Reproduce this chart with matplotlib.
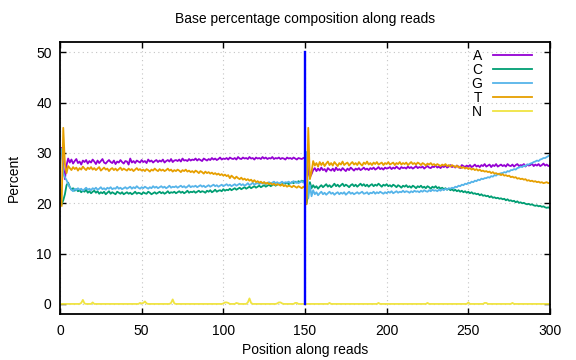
import numpy as np
import matplotlib
matplotlib.use("Agg")
import matplotlib.pyplot as plt

# read positions 1..150 are read 1, 151..300 are read 2
positions = list(range(1, 301))

pct_A = [
    31.0, 27.5, 24.8, 27.6, 28.9, 28.1, 28.7, 27.9, 28.4, 28.8,
    28.0, 28.3, 27.7, 28.5, 28.2, 28.6, 27.9, 28.4, 28.1, 28.7,
    28.3, 27.8, 28.5, 28.0, 28.4, 28.8, 28.1, 27.9, 28.3, 28.6,
    28.2, 28.0, 28.5, 27.8, 28.3, 28.1, 28.6, 28.2, 27.9, 28.4,
    28.3, 27.7, 28.9, 28.1, 28.4, 28.0, 28.5, 28.3, 28.1, 28.6,
    28.2, 28.4, 28.0, 28.7, 28.3, 28.5, 28.1, 28.4, 28.6, 28.2,
    28.5, 28.3, 28.7, 28.1, 28.4, 28.6, 28.3, 28.8, 28.2, 28.5,
    28.6, 28.4, 28.7, 28.3, 28.9, 28.5, 28.6, 28.4, 28.8, 28.5,
    28.7, 28.6, 28.9, 28.5, 28.8, 28.6, 28.4, 28.9, 28.7, 28.5,
    28.8, 28.6, 29.0, 28.7, 28.9, 28.6, 28.8, 29.1, 28.7, 28.9,
    28.8, 29.0, 28.7, 29.1, 28.9, 28.8, 29.0, 28.7, 29.2, 28.9,
    28.8, 29.1, 28.9, 29.0, 28.8, 29.2, 28.9, 29.0, 28.7, 29.1,
    28.9, 29.0, 28.8, 29.2, 28.9, 29.1, 28.8, 29.0, 28.9, 29.2,
    28.8, 29.0, 28.9, 29.1, 28.8, 29.0, 28.9, 28.7, 29.1, 28.9,
    29.0, 28.8, 29.1, 28.9, 28.7, 29.0, 28.9, 28.8, 29.0, 29.1,
    29.5, 26.0, 25.2, 25.8, 26.6, 27.0, 26.4, 26.9, 26.5, 27.1,
    26.6, 26.8, 26.3, 27.0, 26.7, 26.5, 26.9, 26.4, 27.1, 26.6,
    26.8, 26.5, 27.0, 26.7, 26.4, 26.9, 26.6, 27.1, 26.8, 26.5,
    26.9, 26.7, 27.0, 26.6, 26.8, 27.1, 26.7, 26.9, 26.6, 27.0,
    26.8, 27.1, 26.7, 26.9, 27.2, 26.8, 27.0, 26.7, 27.1, 26.9,
    27.0, 27.2, 26.8, 27.1, 26.9, 27.3, 27.0, 26.8, 27.2, 27.0,
    27.1, 26.9, 27.3, 27.0, 27.2, 26.9, 27.1, 27.4, 27.0, 27.2,
    27.1, 27.3, 26.9, 27.2, 27.4, 27.1, 27.0, 27.3, 27.2, 27.5,
    27.1, 27.3, 27.0, 27.4, 27.2, 27.5, 27.1, 27.3, 27.6, 27.2,
    27.4, 27.1, 27.5, 27.3, 27.0, 27.6, 27.4, 27.2, 27.5, 27.3,
    27.6, 27.2, 27.4, 27.7, 27.3, 27.5, 27.2, 27.6, 27.4, 27.8,
    27.3, 27.5, 27.7, 27.2, 27.6, 27.4, 27.8, 27.3, 27.5, 27.7,
    27.4, 27.6, 27.3, 27.8, 27.5, 27.4, 27.7, 27.3, 27.6, 27.8,
    27.4, 27.6, 27.5, 27.8, 27.3, 27.7, 27.5, 27.6, 27.9, 27.4,
    27.7, 27.5, 27.8, 27.4, 27.6, 27.9, 27.5, 27.7, 27.4, 27.6,
]

pct_C = [
    19.8, 20.6, 21.8, 23.6, 24.1, 23.2, 22.7, 23.0, 22.5, 22.8,
    22.4, 22.6, 22.2, 22.5, 22.3, 22.7, 22.1, 22.4, 22.0, 22.3,
    22.5, 22.1, 22.4, 21.9, 22.2, 22.0, 22.3, 21.8, 22.1, 22.4,
    21.9, 22.2, 22.0, 21.8, 22.3, 22.1, 21.9, 22.2, 21.8, 22.0,
    22.2, 21.9, 22.1, 21.8, 22.0, 22.3, 21.9, 22.1, 22.0, 21.8,
    22.2, 22.0, 21.9, 22.3, 22.1, 21.8, 22.0, 22.2, 21.9, 22.1,
    22.3, 22.0, 22.2, 21.9, 22.1, 22.4, 22.0, 22.2, 22.1, 22.3,
    22.0, 22.2, 22.4, 22.1, 22.3, 22.0, 22.2, 22.5, 22.1, 22.3,
    22.2, 22.4, 22.1, 22.3, 22.5, 22.2, 22.4, 22.3, 22.1, 22.5,
    22.3, 22.6, 22.2, 22.4, 22.7, 22.3, 22.5, 22.6, 22.4, 22.8,
    22.5, 22.7, 22.6, 22.9, 22.6, 22.8, 23.0, 22.7, 22.9, 23.1,
    22.8, 23.0, 23.2, 22.9, 23.1, 23.3, 23.0, 23.2, 23.4, 23.1,
    23.3, 23.5, 23.2, 23.4, 23.6, 23.3, 23.5, 23.7, 23.4, 23.6,
    23.8, 23.5, 23.7, 23.9, 23.6, 23.8, 24.0, 23.9, 24.1, 23.8,
    24.0, 24.2, 24.0, 24.3, 24.1, 24.4, 24.2, 24.5, 24.3, 24.6,
    20.0, 22.0, 24.2, 23.0, 23.6, 23.1, 23.4, 22.9, 23.3, 23.6,
    23.2, 23.5, 23.8, 23.3, 23.6, 23.2, 23.5, 23.9, 23.4, 23.7,
    23.3, 23.6, 23.9, 23.4, 23.7, 23.5, 23.2, 23.6, 23.8, 23.4,
    23.7, 23.3, 23.6, 23.9, 23.5, 23.8, 23.4, 23.7, 23.3, 23.6,
    23.8, 23.4, 23.7, 23.5, 23.9, 23.6, 23.3, 23.7, 23.5, 23.8,
    23.4, 23.6, 23.3, 23.7, 23.5, 23.2, 23.6, 23.4, 23.1, 23.5,
    23.3, 23.6, 23.2, 23.4, 23.1, 23.5, 23.3, 23.0, 23.4, 23.2,
    23.5, 23.1, 23.3, 23.0, 23.4, 23.2, 22.9, 23.3, 23.1, 23.4,
    23.0, 23.2, 22.9, 23.1, 22.8, 23.0, 22.7, 22.9, 22.6, 22.8,
    22.5, 22.7, 22.4, 22.6, 22.3, 22.5, 22.2, 22.4, 22.1, 22.3,
    22.0, 22.2, 21.9, 22.0, 21.8, 21.9, 21.6, 21.8, 21.5, 21.6,
    21.4, 21.5, 21.2, 21.4, 21.1, 21.2, 21.0, 21.1, 20.9, 21.0,
    20.8, 20.9, 20.6, 20.8, 20.5, 20.6, 20.4, 20.5, 20.2, 20.4,
    20.1, 20.2, 20.0, 20.1, 19.9, 19.8, 19.9, 19.7, 19.8, 19.6,
    19.5, 19.6, 19.4, 19.5, 19.3, 19.4, 19.2, 19.1, 19.2, 19.0,
]

pct_G = [
    30.8, 26.0, 25.2, 24.6, 23.8, 23.2, 22.7, 22.4, 22.9, 22.6,
    23.0, 22.7, 22.9, 22.5, 22.8, 23.1, 22.7, 22.9, 22.6, 23.0,
    22.8, 23.1, 22.7, 22.9, 23.2, 22.8, 23.0, 22.7, 23.1, 22.9,
    23.2, 22.8, 23.0, 22.9, 23.3, 22.9, 23.1, 22.8, 23.0, 23.2,
    22.9, 23.1, 23.3, 22.9, 23.2, 23.0, 23.4, 23.1, 22.9, 23.2,
    23.0, 23.3, 23.1, 22.9, 23.2, 23.0, 23.4, 23.1, 23.3, 23.0,
    23.2, 23.4, 23.1, 23.3, 23.0, 23.2, 23.5, 23.1, 23.3, 23.2,
    23.4, 23.1, 23.3, 23.5, 23.2, 23.4, 23.1, 23.3, 23.6, 23.2,
    23.4, 23.3, 23.5, 23.2, 23.4, 23.6, 23.3, 23.5, 23.2, 23.4,
    23.6, 23.3, 23.5, 23.7, 23.4, 23.6, 23.3, 23.5, 23.7, 23.4,
    23.6, 23.8, 23.5, 23.7, 23.4, 23.6, 23.8, 23.5, 23.7, 23.9,
    23.6, 23.8, 23.5, 23.7, 24.0, 23.6, 23.8, 24.1, 23.7, 23.9,
    24.0, 23.8, 24.1, 23.9, 24.2, 23.8, 24.0, 24.2, 23.9, 24.1,
    24.3, 24.0, 24.2, 23.9, 24.1, 24.3, 24.0, 24.2, 24.1, 24.3,
    24.0, 24.2, 24.4, 24.1, 24.3, 24.0, 24.2, 24.4, 24.1, 24.3,
    30.2, 21.0, 23.6, 21.4, 22.6, 21.8, 22.2, 21.6, 22.0, 22.3,
    21.8, 22.1, 21.7, 22.0, 22.3, 21.9, 22.1, 21.7, 22.0, 22.2,
    21.8, 22.1, 21.9, 22.2, 21.7, 22.0, 22.3, 21.9, 22.1, 21.8,
    22.0, 22.2, 21.9, 22.1, 22.3, 21.9, 22.0, 22.2, 21.8, 22.1,
    22.0, 22.3, 21.9, 22.2, 22.0, 22.3, 22.1, 21.9, 22.2, 22.0,
    22.3, 22.1, 22.4, 22.0, 22.2, 22.4, 22.1, 22.3, 22.2, 22.5,
    22.2, 22.4, 22.3, 22.1, 22.4, 22.2, 22.5, 22.3, 22.4, 22.2,
    22.5, 22.3, 22.6, 22.4, 22.3, 22.6, 22.4, 22.7, 22.5, 22.6,
    22.4, 22.7, 22.5, 22.8, 22.6, 22.9, 22.7, 23.0, 22.9, 23.1,
    23.0, 23.3, 23.2, 23.5, 23.4, 23.7, 23.6, 23.9, 23.8, 24.1,
    24.0, 24.3, 24.2, 24.5, 24.4, 24.7, 24.6, 24.9, 24.8, 25.0,
    25.0, 25.2, 25.1, 25.4, 25.3, 25.6, 25.5, 25.8, 25.7, 26.0,
    26.0, 26.2, 26.1, 26.4, 26.3, 26.6, 26.6, 26.8, 26.7, 27.0,
    27.1, 27.3, 27.2, 27.5, 27.4, 27.7, 27.7, 27.9, 28.0, 28.2,
    28.3, 28.5, 28.4, 28.7, 28.8, 29.0, 29.0, 29.2, 29.4, 29.6,
]

pct_T = [
    19.5, 35.0, 27.8, 26.0, 27.4, 27.0, 26.6, 27.2, 26.8, 27.1,
    26.5, 27.0, 26.7, 27.3, 26.9, 26.6, 27.1, 26.8, 27.2, 26.7,
    27.0, 26.6, 26.9, 27.2, 26.5, 26.8, 27.1, 26.7, 26.9, 26.4,
    26.8, 27.0, 26.6, 26.9, 26.5, 26.8, 27.1, 26.6, 26.9, 26.7,
    26.5, 26.9, 26.6, 26.8, 26.4, 26.7, 27.0, 26.6, 26.8, 26.5,
    26.7, 26.4, 26.8, 26.6, 26.3, 26.7, 26.5, 26.9, 26.6, 26.4,
    26.8, 26.5, 26.7, 26.4, 26.6, 26.9, 26.5, 26.7, 26.3, 26.6,
    26.4, 26.7, 26.5, 26.2, 26.6, 26.4, 26.7, 26.3, 26.5, 26.2,
    26.4, 26.1, 26.5, 26.3, 26.0, 26.4, 26.2, 25.9, 26.3, 26.0,
    26.2, 25.9, 26.1, 25.8, 26.0, 25.7, 25.9, 25.6, 25.8, 25.5,
    25.7, 25.4, 25.6, 25.0, 25.5, 25.2, 24.9, 25.3, 25.0, 24.8,
    25.1, 24.7, 24.9, 24.6, 24.8, 24.5, 24.7, 24.3, 24.6, 24.2,
    24.4, 24.1, 24.3, 24.0, 24.2, 23.9, 24.1, 23.8, 24.0, 23.7,
    23.9, 23.6, 23.8, 23.7, 23.5, 23.8, 23.4, 23.6, 23.3, 23.5,
    23.4, 23.2, 23.5, 23.3, 23.1, 23.4, 23.2, 23.0, 23.3, 23.1,
    19.8, 35.0, 24.8, 26.2, 28.4, 27.5, 28.0, 27.3, 28.2, 27.6,
    28.1, 27.4, 27.9, 28.3, 27.6, 28.0, 27.5, 28.2, 27.8, 27.4,
    28.0, 27.7, 28.3, 27.6, 27.9, 28.1, 27.5, 27.9, 28.2, 27.7,
    28.0, 27.6, 28.2, 27.8, 27.5, 28.1, 27.8, 28.3, 27.7, 28.0,
    27.6, 28.1, 27.8, 28.2, 27.7, 27.9, 28.1, 27.6, 28.0, 27.8,
    28.2, 27.7, 27.9, 28.1, 27.6, 28.0, 27.8, 28.2, 27.7, 28.0,
    27.8, 28.1, 27.6, 27.9, 28.2, 27.8, 28.0, 27.7, 28.1, 27.9,
    27.6, 28.0, 27.8, 27.5, 27.9, 27.7, 28.0, 27.6, 27.8, 27.5,
    27.8, 27.6, 27.4, 27.7, 27.5, 27.8, 27.4, 27.6, 27.3, 27.6,
    27.4, 27.2, 27.5, 27.1, 27.3, 27.0, 27.2, 26.9, 27.1, 26.8,
    27.0, 26.7, 26.9, 26.6, 26.8, 26.5, 26.7, 26.4, 26.5, 26.3,
    26.4, 26.2, 26.3, 26.0, 26.2, 25.9, 26.0, 25.8, 25.9, 25.6,
    25.8, 25.5, 25.6, 25.4, 25.5, 25.2, 25.3, 25.1, 25.2, 24.9,
    25.0, 24.8, 24.9, 24.7, 24.8, 24.5, 24.6, 24.4, 24.5, 24.3,
    24.4, 24.2, 24.3, 24.1, 24.2, 24.0, 24.1, 24.2, 24.0, 24.1,
]

pct_N = [
    0, 0, 0, 0, 0, 0, 0, 0, 0, 0, 0, 0, 0.2, 0.8, 0.1, 0, 0, 0, 0, 0.3,
    0, 0, 0, 0, 0, 0, 0, 0, 0, 0, 0, 0, 0, 0, 0, 0, 0, 0, 0, 0,
    0, 0, 0, 0, 0, 0, 0, 0, 0.2, 0.1, 0.2, 0.5, 0.1, 0, 0, 0, 0, 0, 0, 0,
    0, 0, 0, 0, 0, 0, 0, 0.2, 0.9, 0.1, 0, 0, 0, 0, 0, 0, 0, 0, 0, 0,
    0, 0, 0, 0, 0, 0, 0, 0, 0, 0, 0, 0, 0, 0, 0, 0, 0, 0, 0, 0.1,
    0.3, 0.3, 0.2, 0, 0, 0, 0, 0.2, 0.1, 0, 0, 0, 0, 0, 0.3, 1.1, 0.2, 0, 0, 0,
    0, 0, 0, 0, 0, 0, 0, 0, 0, 0, 0, 0, 0.1, 0.3, 0.3, 0.1, 0, 0, 0, 0,
    0, 0, 0, 0.2, 0.2, 0, 0, 0, 0, 0, 0, 0, 0, 0, 0, 0, 0, 0, 0, 0,
    0, 0, 0, 0, 0.2, 0, 0, 0, 0, 0, 0, 0, 0, 0, 0, 0, 0, 0, 0, 0,
    0, 0, 0, 0, 0, 0, 0, 0, 0, 0, 0, 0, 0, 0, 0.2, 0, 0, 0, 0, 0,
    0, 0, 0, 0, 0, 0, 0, 0, 0, 0, 0, 0, 0, 0, 0, 0, 0, 0, 0, 0,
    0, 0, 0, 0, 0.2, 0, 0, 0, 0, 0, 0, 0, 0, 0, 0, 0, 0, 0, 0, 0,
    0, 0, 0, 0, 0, 0, 0, 0, 0, 0.3, 0, 0, 0, 0, 0, 0, 0, 0, 0, 0.2,
    0.2, 0, 0, 0, 0, 0, 0, 0, 0, 0, 0, 0, 0, 0, 0, 0, 0.2, 0, 0, 0,
    0, 0, 0, 0, 0, 0, 0, 0, 0, 0, 0, 0, 0, 0, 0, 0, 0, 0, 0, 0,
]

bases = ["A", "C", "G", "T", "N"]
series = [pct_A, pct_C, pct_G, pct_T, pct_N]
colors = ["#9400d3", "#009e73", "#56b4e9", "#e69f00", "#f0e442"]

# boundary between read 1 and read 2
split_x = [150, 150]
split_y = [0, 50]

plt.rcParams["font.family"] = ["Liberation Sans", "DejaVu Sans"]
plt.rcParams["font.size"] = 10

fig = plt.figure(figsize=(5.76, 3.6), dpi=100)
ax = fig.add_axes([60 / 576, 1 - 314 / 360, 490 / 576, 271.7 / 360])

for base, vals, col in zip(bases, series, colors):
    ax.plot(positions, vals, color=col, lw=1.3, label=base)

ax.plot(split_x, split_y, color="#0000ff", lw=1.7)

ax.set_xlim(0, 300)
ax.set_ylim(-2, 52)
ax.set_xticks(range(0, 301, 50))
ax.set_yticks(range(0, 51, 10))
ax.grid(True, color="#c4c4c4", linestyle=(0, (1, 3)), lw=0.8)
ax.set_axisbelow(True)
ax.tick_params(direction="in", length=4, width=1, top=True, right=True,
               colors="black", labelsize=10)
ax.tick_params(axis="x", pad=7)
ax.tick_params(axis="y", pad=6)
for sp in ax.spines.values():
    sp.set_linewidth(1.3)

ax.set_xlabel("Position along reads", fontsize=10, labelpad=4)
ax.set_ylabel("Percent", fontsize=10, labelpad=11)
fig.text(305 / 576, 1 - 19 / 360, "Base percentage composition along reads",
         ha="center", va="center", fontsize=10)

leg = ax.legend(loc="upper right", bbox_to_anchor=(0.977, 1.0), frameon=False,
                markerfirst=False, handlelength=2.8, handletextpad=0.8,
                labelspacing=0.0, borderpad=0, fontsize=10)

fig.savefig("out.png", dpi=100)
